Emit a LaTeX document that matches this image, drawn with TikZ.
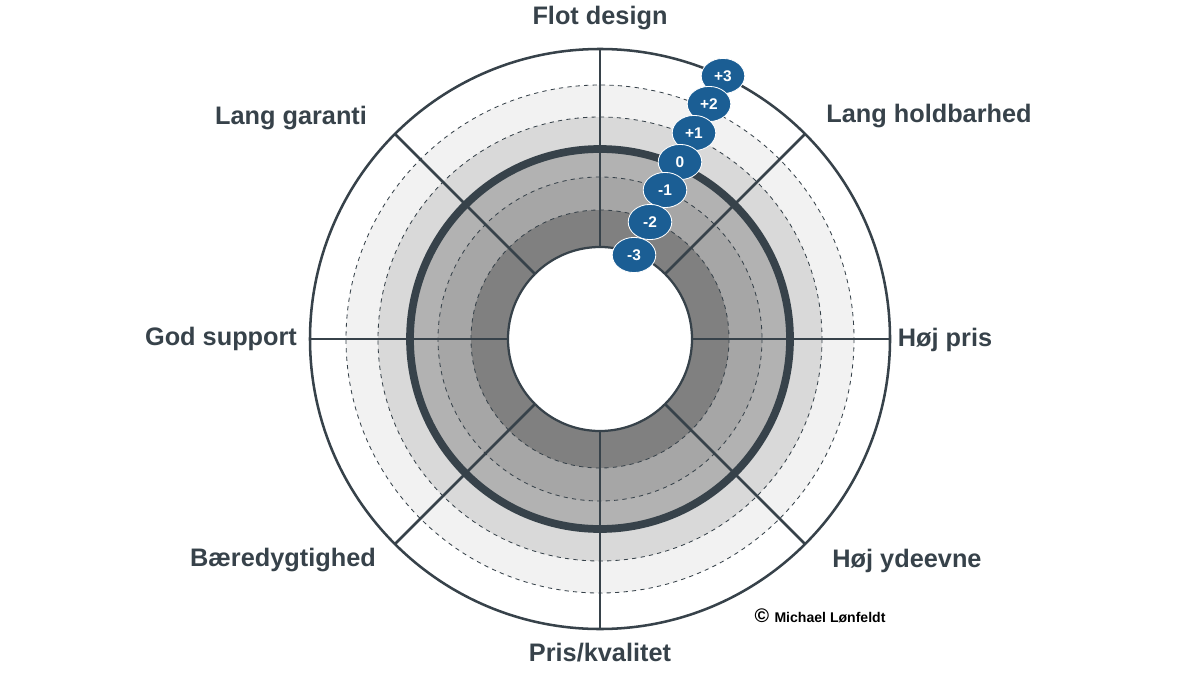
\documentclass[tikz,border=0pt]{standalone}
\usepackage{fontspec}
\setmainfont{Liberation Sans}
\definecolor{ringline}{HTML}{37424A}
\definecolor{markblue}{HTML}{1B5E94}
\tikzset{
    axislabel/.style={font=\fontsize{18}{20}\selectfont\bfseries, text=ringline},
    levelmark/.style={ellipse, fill=markblue, draw=white, line width=0.6pt, minimum width=31pt, minimum height=25pt, inner sep=0pt, text=white, font=\fontsize{11}{12}\selectfont\bfseries},
}
\usetikzlibrary{shapes.geometric,calc}
\begin{document}
\begin{tikzpicture}[x=0.025cm,y=-0.025cm]
            \useasboundingbox (0,0) rectangle (1200,675);
            \coordinate (c) at (600,339);

            % bands, outermost first
            \fill[white]       (c) circle[radius=290];
            \fill[black!5]     (c) circle[radius=254];
            \fill[black!15]    (c) circle[radius=222];
            \fill[black!30]    (c) circle[radius=190];
            \fill[black!35]    (c) circle[radius=162];
            \fill[black!50]    (c) circle[radius=129];
            \fill[white]       (c) circle[radius=92];

            \foreach \r in {129,162,222,254} {
                \draw[ringline, dashed, line width=0.6pt] (c) circle[radius=\r];
            }

            \foreach \a in {0,45,...,315} {
                \draw[ringline, line width=1.8pt] ($(c)+(\a:92)$) -- ($(c)+(\a:290)$);
            }

            \draw[ringline, line width=1.6pt] (c) circle[radius=92];
            \draw[ringline, line width=5.5pt] (c) circle[radius=190];
            \draw[ringline, line width=1.8pt] (c) circle[radius=290];

            \node[axislabel] (flot)    at (600,18)  {Flot design};
            \node[axislabel] (hold)    at (929,116) {Lang holdbarhed};
            \node[axislabel] (pris)    at (945,340) {Høj pris};
            \node[axislabel] (ydeevne) at (907,561) {Høj ydeevne};
            \node[axislabel] (kval)    at (600,653) {Pris/kvalitet};
            \node[axislabel] (baer)    at (283,560) {Bæredygtighed};
            \node[axislabel] (support) at (221,339) {God support};
            \node[axislabel] (garanti) at (291,118) {Lang garanti};

            \node[levelmark] (m3)  at (723,76)  {+3};
            \node[levelmark] (m2)  at (709,104) {+2};
            \node[levelmark] (m1)  at (694,133) {+1};
            \node[levelmark] (m0)  at (680,162) {0};
            \node[levelmark] (mm1) at (665,190) {-1};
            \node[levelmark] (mm2) at (650,222) {-2};
            \node[levelmark] (mm3) at (634,255) {-3};

            \node[font=\fontsize{10}{12}\selectfont\bfseries, text=black] (copy) at (820,616) {\fontsize{14}{14}\selectfont\textcopyright\ \fontsize{10}{12}\selectfont Michael Lønfeldt};
        \end{tikzpicture}
\end{document}
